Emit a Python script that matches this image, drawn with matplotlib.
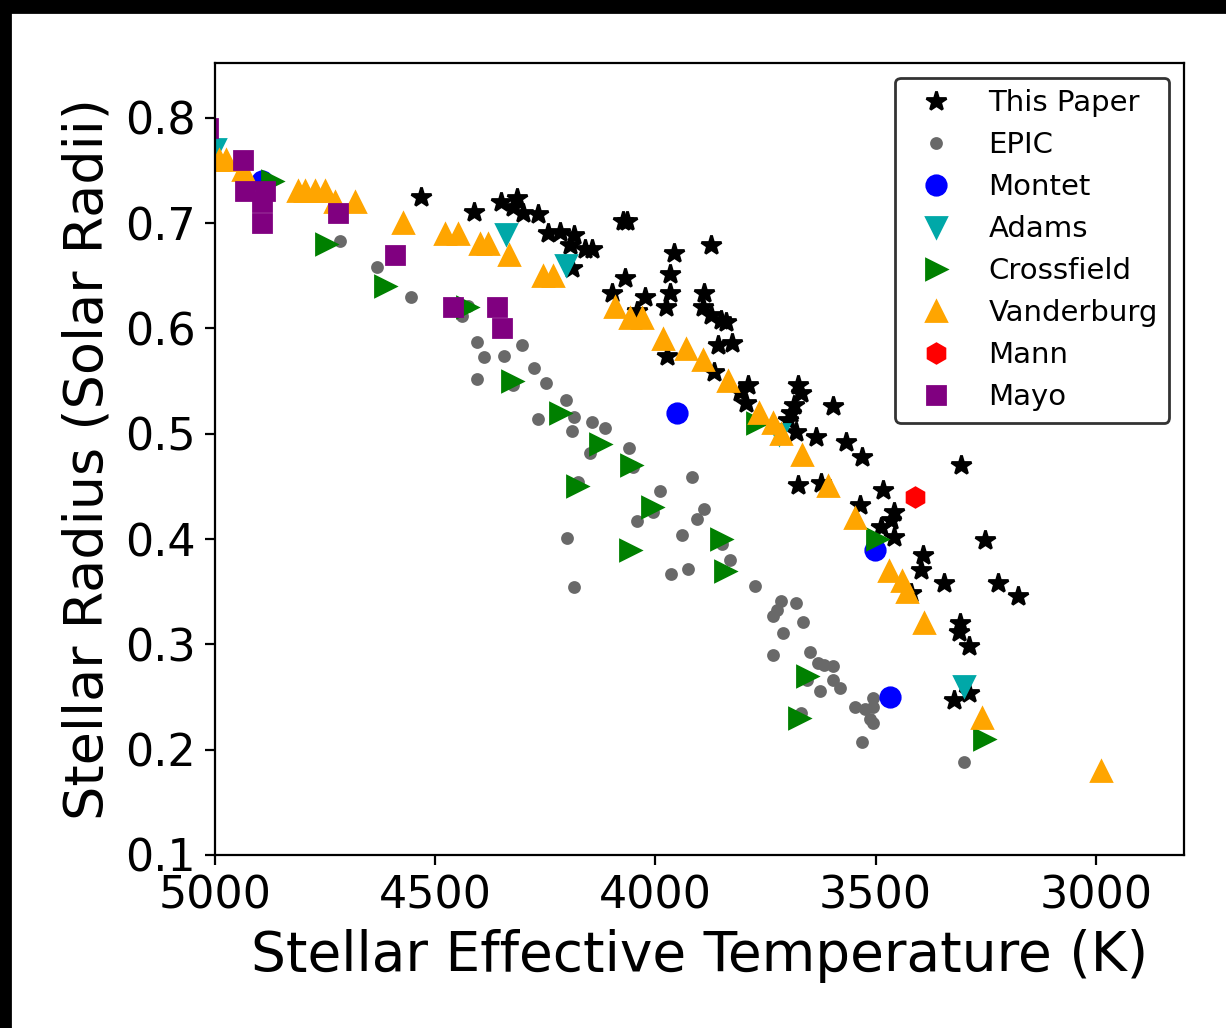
import matplotlib
matplotlib.use("Agg")
import matplotlib.pyplot as plt
from matplotlib.patches import Rectangle

# ---------------- data ----------------
paper_teff = [4532, 4411, 4350, 4314, 4323, 4300, 4266, 4245, 4216, 4186, 4193, 4159, 4143, 4189,
              4073, 4064, 3957, 3873, 4070, 4098, 4023, 4041, 3968, 3968, 3977, 3889, 3893, 3875,
              3852, 3839, 3973, 3857, 3827, 3868, 3791, 3807, 3795, 3677, 3670, 3686, 3693, 3698,
              3682, 3636, 3598, 3568, 3530, 3307, 3677, 3625, 3484, 3536, 3459, 3466, 3489, 3459,
              3393, 3398, 3345, 3252, 3223, 3177, 3420, 3309, 3311, 3289, 3323, 3289]
paper_rad = [0.725, 0.711, 0.720, 0.724, 0.715, 0.710, 0.709, 0.691, 0.692, 0.689, 0.679, 0.675, 0.675, 0.657,
             0.702, 0.702, 0.672, 0.679, 0.648, 0.634, 0.630, 0.617, 0.652, 0.634, 0.620, 0.634, 0.620, 0.613,
             0.608, 0.606, 0.574, 0.584, 0.586, 0.559, 0.546, 0.540, 0.529, 0.546, 0.539, 0.527, 0.520, 0.513,
             0.502, 0.497, 0.526, 0.492, 0.478, 0.470, 0.451, 0.453, 0.447, 0.432, 0.426, 0.418, 0.411, 0.402,
             0.385, 0.371, 0.358, 0.399, 0.358, 0.346, 0.349, 0.320, 0.312, 0.298, 0.247, 0.254]

epic_teff = [4716, 4632, 4555, 4439, 4425, 4405, 4389, 4343, 4302, 4405, 4323, 4275, 4248, 4202,
             4266, 4184, 4145, 4114, 4189, 4148, 4061, 4050, 4175, 3918, 3989, 4005, 4043, 3889,
             3905, 3939, 4200, 3848, 3830, 3964, 3925, 4184, 3775, 3716, 3680, 3723, 3734, 3664,
             3711, 3650, 3732, 3630, 3618, 3598, 3655, 3598, 3627, 3582, 3548, 3525, 3505, 3505,
             3514, 3507, 3532, 3670, 3300]
epic_rad = [0.683, 0.658, 0.630, 0.612, 0.621, 0.587, 0.573, 0.574, 0.584, 0.552, 0.546, 0.562, 0.548, 0.532,
            0.514, 0.516, 0.511, 0.505, 0.503, 0.482, 0.486, 0.468, 0.454, 0.459, 0.446, 0.426, 0.417, 0.429,
            0.419, 0.404, 0.401, 0.395, 0.380, 0.367, 0.372, 0.354, 0.355, 0.341, 0.339, 0.333, 0.327, 0.321,
            0.311, 0.293, 0.290, 0.282, 0.280, 0.279, 0.266, 0.266, 0.256, 0.259, 0.241, 0.239, 0.249, 0.241,
            0.229, 0.225, 0.207, 0.235, 0.188]

montet_teff = [4893, 3950, 3502, 3468]
montet_rad = [0.74, 0.52, 0.39, 0.25]

adams_teff = [5000, 4339, 4202, 3720, 3300]
adams_rad = [0.77, 0.69, 0.66, 0.50, 0.26]

cross_teff = [4870, 4748, 4614, 4427, 4325, 4216, 4127, 4055, 4177, 4007, 4057, 3852, 3843,
              3770, 3657, 3675, 3498, 3255]
cross_rad = [0.74, 0.68, 0.64, 0.62, 0.55, 0.52, 0.49, 0.47, 0.45, 0.43, 0.39, 0.40, 0.37,
             0.51, 0.27, 0.23, 0.40, 0.21]

vand_teff = [4990, 4975, 4936, 4811, 4795, 4773, 4750, 4727, 4682, 4573, 4477, 4448, 4398, 4380,
             4332, 4255, 4232, 4091, 4057, 4030, 3982, 3930, 3891, 3836, 3766, 3732, 3716, 3668,
             3609, 3548, 3470, 3441, 3430, 3391, 3259, 2989]
vand_rad = [0.76, 0.76, 0.75, 0.73, 0.73, 0.73, 0.73, 0.72, 0.72, 0.70, 0.69, 0.69, 0.68, 0.68,
            0.67, 0.65, 0.65, 0.62, 0.61, 0.61, 0.59, 0.58, 0.57, 0.55, 0.52, 0.51, 0.50, 0.48,
            0.45, 0.42, 0.37, 0.36, 0.35, 0.32, 0.23, 0.18]

mann_teff = [3410]
mann_rad = [0.44]

mayo_teff = [5015, 4936, 4932, 4886, 4893, 4893, 4720, 4591, 4459, 4359, 4348]
mayo_rad = [0.79, 0.76, 0.73, 0.73, 0.72, 0.70, 0.71, 0.67, 0.62, 0.62, 0.60]

x_ticks = [5000, 4500, 4000, 3500, 3000]
y_ticks = [0.1, 0.2, 0.3, 0.4, 0.5, 0.6, 0.7, 0.8]

# ---------------- figure ----------------
DPI = 200
fig = plt.figure(figsize=(1226 / DPI, 1028 / DPI), dpi=DPI)
W, H = 1226, 1028
ax = fig.add_axes([215 / W, (H - 855) / H, (1184 - 215) / W, (855 - 63) / H])

ax.plot(paper_teff, paper_rad, ls='none', marker='*', color='k', ms=7.5, label='This Paper')
ax.plot(epic_teff, epic_rad, ls='none', marker='o', color='dimgray', ms=3.6, label='EPIC')
ax.plot(montet_teff, montet_rad, ls='none', marker='o', color='b', ms=7, label='Montet')
ax.plot(adams_teff, adams_rad, ls='none', marker='v', color='#00a8a8', ms=7.5, label='Adams')
ax.plot(cross_teff, cross_rad, ls='none', marker='>', color='g', ms=7.5, label='Crossfield')
ax.plot(vand_teff, vand_rad, ls='none', marker='^', color='orange', ms=7.5, label='Vanderburg')
ax.plot(mann_teff, mann_rad, ls='none', marker='h', color='r', ms=7, label='Mann')
ax.plot(mayo_teff, mayo_rad, ls='none', marker='s', color='purple', ms=6.5, label='Mayo')

ax.set_xlim(5000, 2800)
ax.set_ylim(0.1, 0.852)
ax.set_xticks(x_ticks)
ax.set_yticks(y_ticks)
ax.tick_params(labelsize=16)
ax.set_xlabel('Stellar Effective Temperature (K)', fontsize=19.8)
ax.set_ylabel('Stellar Radius (Solar Radii)', fontsize=19.5)

leg = ax.legend(loc='upper right', numpoints=1, fontsize=10.5, edgecolor='k', labelspacing=0.48)

# black strips at top and left edges
fig.patches.append(Rectangle((0, 1 - 12 / H), 1, 12 / H, transform=fig.transFigure,
                             color='k', zorder=10))
fig.patches.append(Rectangle((0, 0), 10 / W, 1, transform=fig.transFigure,
                             color='k', zorder=10))

fig.savefig('out.png', dpi=DPI)
